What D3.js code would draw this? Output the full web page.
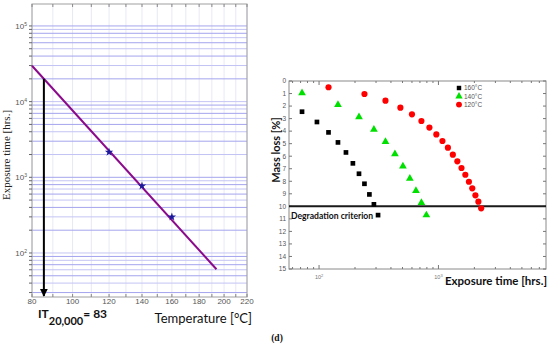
<!DOCTYPE html>
<html><head><meta charset="utf-8">
<script src="https://cdn.jsdelivr.net/npm/d3@7"></script>
<style>body{margin:0;background:#fff}svg{display:block}</style>
</head><body>
<svg id="c" width="550" height="353"></svg>
<script>
// ---------- Left panel data (Arrhenius plot) ----------
const tempTicks = [80, 100, 120, 140, 160, 180, 200, 220];
const tempMinor = [80, 90, 100, 110, 120, 130, 140, 150, 160, 170, 180, 190, 200, 210, 220];
const fitTemp = [80, 193.7];          // °C, ends of the fitted line
const fitHours = [29800, 61];          // hrs at the ends
const testTemp = [120, 140, 160];
const testHours = [2150, 770, 300];
const criterionHours = 20000;
const decadeLabels = [100, 1000, 10000, 100000];

// ---------- Right panel data (mass loss curves) ----------
const hours160 = [72, 96, 120, 144, 168, 192, 216, 240, 264, 288, 312];
const loss160 = [2.45, 3.27, 4.1, 4.9, 5.7, 6.57, 7.4, 8.2, 9.05, 9.84, 10.7];
const hours140 = [72, 144, 216, 288, 360, 432, 504, 576, 648, 720, 792];
const loss140 = [0.95, 1.9, 2.88, 3.87, 4.85, 5.82, 6.8, 7.78, 8.76, 9.72, 10.7];
const hours120 = [120, 240, 360, 480, 600, 720, 840, 960, 1080, 1200, 1320, 1440, 1560, 1680, 1800, 1920, 2040, 2160, 2280];
const loss120 = [0.5, 1.04, 1.57, 2.13, 2.66, 3.19, 3.72, 4.26, 4.79, 5.32, 5.88, 6.41, 6.94, 7.48, 8.04, 8.56, 9.12, 9.63, 10.16];
const lossTicks = d3.range(0, 16);
const legendLabels = ["160°C", "140°C", "120°C"];
const degradationLoss = 10;

const svg = d3.select("#c");

// ================= LEFT PANEL =================
const inv = t => 1 / (t + 273.15);
const xInv = d3.scaleLinear().domain([inv(80), inv(220)]).range([32, 247]);
const xL = t => xInv(inv(t));
const yL = d3.scaleLog().domain([26.2, 195000]).range([297, 4]);

const L = svg.append("g");
// vertical faint grid
L.selectAll("line.vg").data(tempMinor).join("line")
  .attr("x1", d => xL(d)).attr("x2", d => xL(d)).attr("y1", 4).attr("y2", 297)
  .attr("stroke", "#e8e8f6").attr("stroke-width", 1);
// horizontal blue grid
const hGrid = [];
[10, 100, 1000, 10000, 100000].forEach(dec => { for (let m = 1; m <= 9; m++) { const v = dec * m; if (v >= 26.2 && v <= 195000) hGrid.push(v); } });
L.selectAll("line.hg").data(hGrid).join("line")
  .attr("x1", 32).attr("x2", 247).attr("y1", d => yL(d)).attr("y2", d => yL(d))
  .attr("stroke", (d, i) => i % 2 ? "#c4c4f4" : "#a4a4ee").attr("stroke-width", 1);
// frame
L.append("rect").attr("x", 32).attr("y", 4).attr("width", 215).attr("height", 293)
  .attr("fill", "none").attr("stroke", "#a0a0a0").attr("stroke-width", 1);
// y ticks (outward on left)
L.selectAll("line.yt").data(hGrid).join("line")
  .attr("x1", 29).attr("x2", 32).attr("y1", d => yL(d)).attr("y2", d => yL(d))
  .attr("stroke", "#666").attr("stroke-width", 1);
// x ticks top & bottom (inward)
L.selectAll("line.xt").data(tempMinor).join("line")
  .attr("x1", d => xL(d)).attr("x2", d => xL(d)).attr("y1", 4).attr("y2", 7)
  .attr("stroke", "#888");
L.selectAll("line.xb").data(tempMinor).join("line")
  .attr("x1", d => xL(d)).attr("x2", d => xL(d)).attr("y1", 294).attr("y2", 297)
  .attr("stroke", "#888");
// y labels 10^n
const yLab = L.selectAll("text.yl").data(decadeLabels).join("text")
  .attr("x", 27).attr("y", d => yL(d) + 3).attr("text-anchor", "end")
  .attr("font-family", "Liberation Sans, Arial, sans-serif").attr("font-size", 8).attr("fill", "#555");
yLab.append("tspan").text("10");
yLab.append("tspan").attr("dy", -3).attr("font-size", 5).text(d => Math.round(Math.log10(d)));
// x labels
L.selectAll("text.xl").data(tempTicks).join("text")
  .attr("x", d => xL(d)).attr("y", 304).attr("text-anchor", "middle")
  .attr("font-family", "Liberation Sans, Arial, sans-serif").attr("font-size", 8).attr("fill", "#555")
  .text(d => d);
// y title (serif)
L.append("text").attr("transform", "translate(10,155) rotate(-90)").attr("text-anchor", "middle")
  .attr("font-family", "Liberation Serif, Times New Roman, serif").attr("font-size", 11).attr("fill", "#222")
  .text("Exposure time [hrs.]");
// fitted line
const lineGen = d3.line().x(d => xL(d[0])).y(d => yL(d[1]));
L.append("path").datum(d3.zip(fitTemp, fitHours)).attr("d", lineGen)
  .attr("stroke", "#8b0a8b").attr("stroke-width", 2).attr("fill", "none");
// intersection with criterion
const lx0 = inv(fitTemp[0]), lx1 = inv(fitTemp[1]);
const ly0 = Math.log10(fitHours[0]), ly1 = Math.log10(fitHours[1]);
const fr = (Math.log10(criterionHours) - ly0) / (ly1 - ly0);
const xCross = xInv(lx0 + fr * (lx1 - lx0));
// arrow
const defs = svg.append("defs");
defs.append("marker").attr("id", "ah").attr("viewBox", "0 0 10 10").attr("refX", 9).attr("refY", 5)
  .attr("markerWidth", 4).attr("markerHeight", 5).attr("orient", "auto")
  .append("path").attr("d", "M0,0 L10,5 L0,10 Z").attr("fill", "#000");
L.append("line").attr("x1", xCross).attr("x2", xCross).attr("y1", yL(criterionHours)).attr("y2", 296)
  .attr("stroke", "#000").attr("stroke-width", 2).attr("marker-end", "url(#ah)");
// stars
L.selectAll("path.st").data(d3.zip(testTemp, testHours)).join("path")
  .attr("d", d3.symbol(d3.symbolStar, 22))
  .attr("transform", d => `translate(${xL(d[0])},${yL(d[1])})`)
  .attr("fill", "#1a1a9a");
// IT label
const it = L.append("text").attr("x", 38).attr("y", 318)
  .attr("font-family", "Lato, Liberation Sans, sans-serif").attr("font-weight", "bold").attr("font-size", 12).attr("fill", "#111");
it.append("tspan").text("IT");
it.append("tspan").attr("dy", 7).attr("font-size", 11).text("20,000");
it.append("tspan").attr("dy", -7).text("= 83");
// x title
L.append("text").attr("x", 252).attr("y", 323).attr("text-anchor", "end")
  .attr("font-family", "Lato, Liberation Sans, sans-serif").attr("font-size", 13).attr("fill", "#111")
  .text("Temperature [°C]");
// caption
svg.append("text").attr("x", 277).attr("y", 341).attr("text-anchor", "middle")
  .attr("font-family", "Liberation Serif, Times New Roman, serif").attr("font-weight", "bold").attr("font-size", 9.5).attr("fill", "#111")
  .text("(d)");

// ================= RIGHT PANEL =================
const xR = d3.scaleLog().domain([56, 7960]).range([289, 546]);
const yR = d3.scaleLinear().domain([0, 15]).range([81, 269]);
const R = svg.append("g");
R.append("rect").attr("x", 289).attr("y", 81).attr("width", 257).attr("height", 188)
  .attr("fill", "none").attr("stroke", "#8a8a8a").attr("stroke-width", 1);
// log ticks top/bottom
const logTicks = [];
[10, 100, 1000].forEach(dec => { for (let m = 1; m <= 9; m++) { const v = dec * m; if (v >= 56 && v <= 7960) logTicks.push(v); } });
const isMajor = v => Math.abs(Math.log10(v) - Math.round(Math.log10(v))) < 1e-9;
R.selectAll("line.tb").data(logTicks).join("line")
  .attr("x1", d => xR(d)).attr("x2", d => xR(d)).attr("y1", 269).attr("y2", d => 269 - (isMajor(d) ? 4 : 2))
  .attr("stroke", "#777");
R.selectAll("line.tt").data(logTicks).join("line")
  .attr("x1", d => xR(d)).attr("x2", d => xR(d)).attr("y1", 81).attr("y2", d => 81 + (isMajor(d) ? 4 : 2))
  .attr("stroke", "#777");
// y ticks left/right
R.selectAll("line.tl").data(lossTicks).join("line")
  .attr("x1", 289).attr("x2", 292).attr("y1", d => yR(d)).attr("y2", d => yR(d)).attr("stroke", "#777");
R.selectAll("line.tr").data(lossTicks).join("line")
  .attr("x1", 543).attr("x2", 546).attr("y1", d => yR(d)).attr("y2", d => yR(d)).attr("stroke", "#777");
// y labels
R.selectAll("text.yl").data(lossTicks).join("text")
  .attr("x", 286).attr("y", d => yR(d) + 2.3).attr("text-anchor", "end")
  .attr("font-family", "Liberation Sans, Arial, sans-serif").attr("font-size", 6.5).attr("fill", "#555")
  .text(d => d);
// x labels
const xLabR = R.selectAll("text.xl").data([100, 1000]).join("text")
  .attr("x", d => xR(d)).attr("y", 279).attr("text-anchor", "middle")
  .attr("font-family", "Liberation Sans, Arial, sans-serif").attr("font-size", 5.5).attr("fill", "#777");
xLabR.append("tspan").text("10");
xLabR.append("tspan").attr("dy", -2.5).attr("font-size", 4).text(d => Math.round(Math.log10(d)));
// titles
R.append("text").attr("transform", "translate(280,150) rotate(-90)").attr("text-anchor", "middle")
  .attr("font-family", "Lato, Liberation Sans, sans-serif").attr("font-weight", "bold").attr("font-size", 11).attr("fill", "#111")
  .text("Mass loss [%]");
R.append("text").attr("x", 547).attr("y", 285).attr("text-anchor", "end")
  .attr("font-family", "Lato, Liberation Sans, sans-serif").attr("font-weight", "bold").attr("font-size", 11.5).attr("fill", "#111")
  .text("Exposure time [hrs.]");
// degradation line
R.append("line").attr("x1", 289).attr("x2", 546).attr("y1", yR(degradationLoss)).attr("y2", yR(degradationLoss))
  .attr("stroke", "#1a1a1a").attr("stroke-width", 2);
R.append("text").attr("x", 291).attr("y", 219)
  .attr("font-family", "Lato, Liberation Sans, sans-serif").attr("font-weight", "bold").attr("font-size", 8.6).attr("fill", "#111")
  .text("Degradation criterion");
// series
const series = [
  { h: hours160, l: loss160, sym: d3.symbolSquare, size: 22, color: "#000000" },
  { h: hours140, l: loss140, sym: d3.symbolTriangle, size: 26, color: "#00e000" },
  { h: hours120, l: loss120, sym: d3.symbolCircle, size: 30, color: "#ff0000" }
];
series.forEach(s => {
  R.selectAll(null).data(d3.zip(s.h, s.l)).join("path")
    .attr("d", d3.symbol(s.sym, s.size))
    .attr("transform", d => `translate(${xR(d[0])},${yR(d[1])})`)
    .attr("fill", s.color);
});
// legend
const lg = R.append("g");
series.forEach((s, i) => {
  lg.append("path").attr("d", d3.symbol(s.sym, s.size * 0.9))
    .attr("transform", `translate(459,${88 + i * 8.3})`).attr("fill", s.color);
  lg.append("text").attr("x", 464).attr("y", 90.3 + i * 8.3)
    .attr("font-family", "Liberation Sans, Arial, sans-serif").attr("font-size", 6.5).attr("fill", "#555")
    .text(legendLabels[i]);
});
</script>
</body></html>
